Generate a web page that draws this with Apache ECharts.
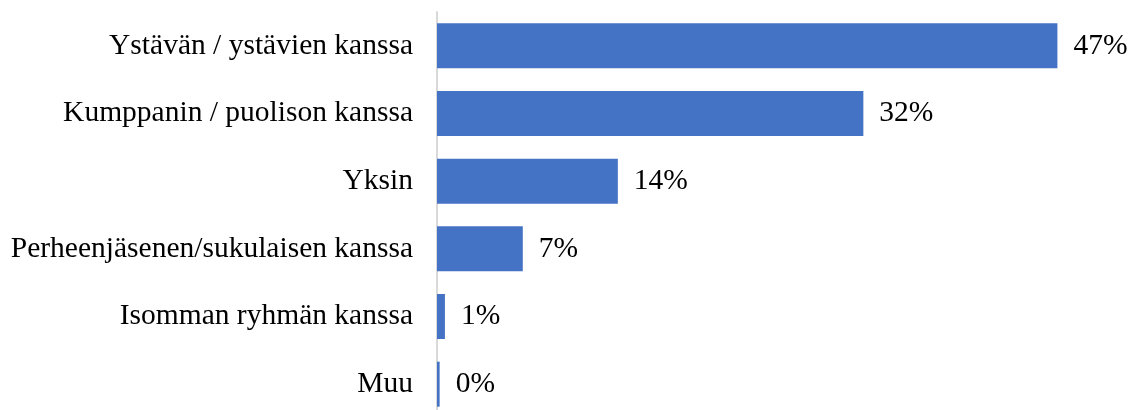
<!DOCTYPE html>
<html>
<head>
<meta charset="utf-8">
<script src="https://cdn.jsdelivr.net/npm/echarts@6/dist/echarts.min.js"></script>
<style>
  html, body { margin: 0; padding: 0; background: #fff; }
  #chart { width: 1133px; height: 410px; }
</style>
</head>
<body>
<div id="chart"></div>
<script>
// kategoriat ylhäältä alas
const categories = [
  'Ystävän / ystävien kanssa',
  'Kumppanin / puolison kanssa',
  'Yksin',
  'Perheenjäsenen/sukulaisen kanssa',
  'Isomman ryhmän kanssa',
  'Muu'
]
// osuudet (%), luettu kuvasta
const values = [47.0, 32.3, 13.7, 6.5, 0.6, 0.2]
const labels = ['47%', '32%', '14%', '7%', '1%', '0%']

const chart = echarts.init(document.getElementById('chart'))

const option = {
  animation: false,
  grid: { left: 437, top: 12, width: 660, height: 406, outerBoundsMode: 'none', containLabel: false },
  xAxis: {
    type: 'value',
    min: 0,
    max: 50,
    show: false
  },
  yAxis: {
    type: 'category',
    inverse: true,
    data: categories,
    axisLine: { show: true, lineStyle: { color: '#d9d9d9', width: 2 } },
    axisTick: { show: false },
    axisLabel: {
      margin: 24,
      fontSize: 29.5,
      color: '#000',
      fontFamily: '"Liberation Serif", serif'
    }
  },
  series: [{
    type: 'bar',
    barWidth: 45,
    data: values.map((v, i) => ({ value: v, label: { formatter: labels[i] } })),
    itemStyle: { color: '#4472C4' },
    label: {
      show: true,
      position: 'right',
      distance: 16,
      fontSize: 29.5,
      color: '#000',
      fontFamily: '"Liberation Serif", serif'
    }
  }]
}

chart.setOption(option)
</script>
</body>
</html>
